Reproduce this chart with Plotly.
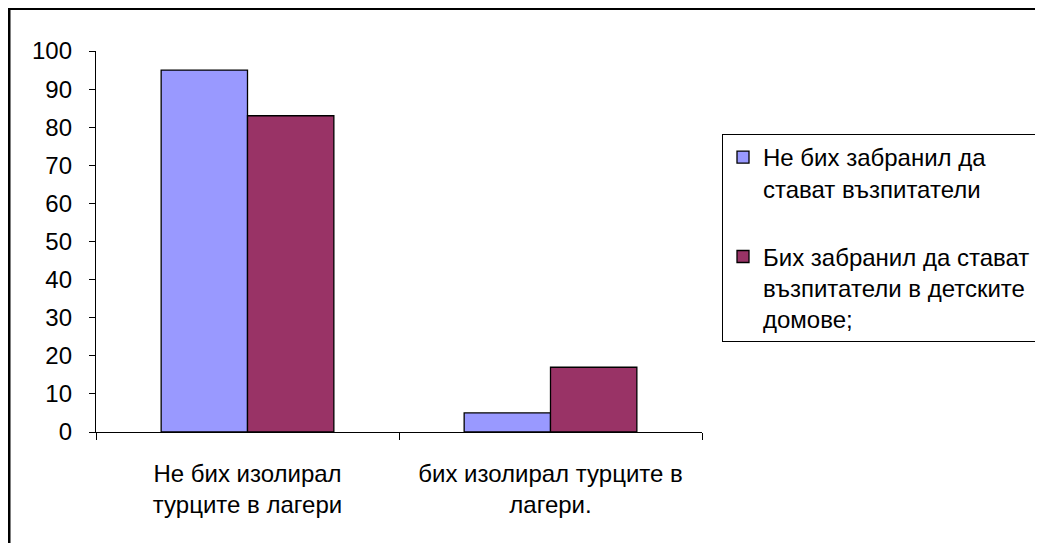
import plotly.graph_objects as go

categories = ["Не бих изолирал<br>турците в лагери", "бих изолирал турците в<br>лагери."]
series_names = ["Не бих забранил да<br>стават възпитатели", "Бих забранил да стават<br>възпитатели в детските<br>домове;"]
series_a = [95, 5]
series_b = [83, 17]
y_ticks = [0, 10, 20, 30, 40, 50, 60, 70, 80, 90, 100]

# page body has an 8px margin; the figure is placed at (8, 8)
OFF = 8
W, H = 1043 - OFF, 543 - OFF
L, R, T, B = 96 - OFF, 702 - OFF, 51 - OFF, 432 - OFF

def px_x(px):
    return (px - OFF - L) / (R - L)

def px_y(py):
    return (B - (py - OFF)) / (B - T)

FONT = "Arial, Liberation Sans, sans-serif"

fig = go.Figure()
fig.add_trace(go.Bar(x=categories, y=series_a, name=series_names[0], legendgroup="a",
                     marker=dict(color="#9999FF", line=dict(color="black", width=1.3))))
fig.add_trace(go.Bar(x=categories, y=series_b, name=series_names[1], legendgroup="b",
                     marker=dict(color="#993366", line=dict(color="black", width=1.3))))

fig.update_layout(
    width=W, height=H,
    margin=dict(l=L, r=W - R, t=T, b=H - B, autoexpand=False),
    paper_bgcolor="white", plot_bgcolor="white",
    font=dict(family=FONT, size=24, color="black"),
    barmode="group", bargap=0.43, bargroupgap=0,
    showlegend=True,
    legend=dict(x=px_x(722), y=px_y(134), xanchor="left", yanchor="top",
                bgcolor="white", bordercolor="black", borderwidth=1,
                font=dict(family=FONT, size=24, color="black"),
                traceorder="grouped", tracegroupgap=34, valign="top",
                itemclick=False, itemdoubleclick=False),
    xaxis=dict(range=[-0.5, 1.5], showline=True, linecolor="black", linewidth=1.3,
               ticks="outside", tickson="boundaries", ticklen=7, tickcolor="black",
               tickwidth=1.3, showgrid=False, zeroline=False, ticklabelstandoff=20),
    yaxis=dict(range=[0, 100], tickvals=y_ticks, showline=True, linecolor="black",
               linewidth=1.3, ticks="outside", ticklen=6, tickcolor="black", tickwidth=1.3,
               showgrid=False, zeroline=False, ticklabelstandoff=12),
    shapes=[dict(type="rect", xref="paper", yref="paper",
                 x0=px_x(9), x1=px_x(1080), y0=px_y(8.5), y1=px_y(580),
                 line=dict(color="black", width=3), fillcolor="rgba(0,0,0,0)", layer="above")],
)

fig.write_html("out.html")
